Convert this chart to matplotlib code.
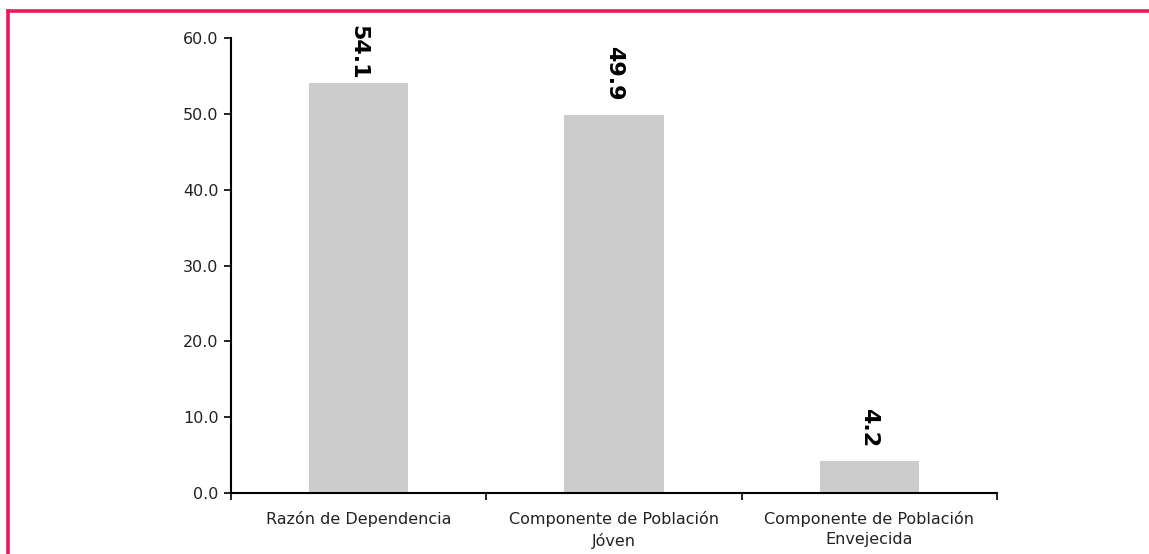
import matplotlib
matplotlib.use('Agg')
import matplotlib.pyplot as plt
from matplotlib.lines import Line2D
import numpy as np

categories = ["Razón de Dependencia", "Componente de Población\nJóven", "Componente de Población\nEnvejecida"]
values = [54.1, 49.9, 4.2]
yticks = [0, 10, 20, 30, 40, 50, 60]

W, H = 1149, 554
fig = plt.figure(figsize=(W / 100, H / 100), dpi=100)
ax = fig.add_axes([231 / W, 61 / H, (997 - 231) / W, 455 / H])

x = np.arange(len(categories))
ax.bar(x, values, width=0.39, color='#cccccc', zorder=2)

ax.set_xlim(-0.5, len(categories) - 0.5)
ax.set_ylim(0, 60)
ax.set_yticks(yticks)
ax.set_yticklabels([f"{v:.1f}" for v in yticks], fontsize=11.5, color='#222222')

# boundary ticks between categories, labels centered under bars
ax.set_xticks(np.arange(len(categories) + 1) - 0.5)
ax.set_xticklabels([])
ax.set_xticks(x, minor=True)
ax.set_xticklabels(categories, minor=True, fontsize=11.5, color='#222222', linespacing=1.45)
ax.tick_params(axis='x', which='minor', length=0, pad=13)
ax.tick_params(axis='x', which='major', length=5, width=1.2, direction='out')
ax.tick_params(axis='y', length=5, width=1.2, direction='out', pad=4)

for s in ['top', 'right']:
    ax.spines[s].set_visible(False)
for s in ['left', 'bottom']:
    ax.spines[s].set_linewidth(1.5)

# value labels, rotated, clamped below the top of the figure
for xi, v in zip(x, values):
    ax.text(xi, min(v + 1.9, 54.5), f"{v:.1f}", rotation=270, ha='center', va='bottom',
            fontsize=16, fontweight='bold', color='black', clip_on=False)

# pink frame (top and left edges only visible)
pink = '#f0185a'
fig.add_artist(Line2D([7.5 / W, 1.0], [1 - 10.5 / H, 1 - 10.5 / H], color=pink, lw=2.6,
                      transform=fig.transFigure))
fig.add_artist(Line2D([7.5 / W, 7.5 / W], [1 - 10.5 / H, 0], color=pink, lw=2.6,
                      transform=fig.transFigure))

fig.savefig('out.png', dpi=100, facecolor='white')
